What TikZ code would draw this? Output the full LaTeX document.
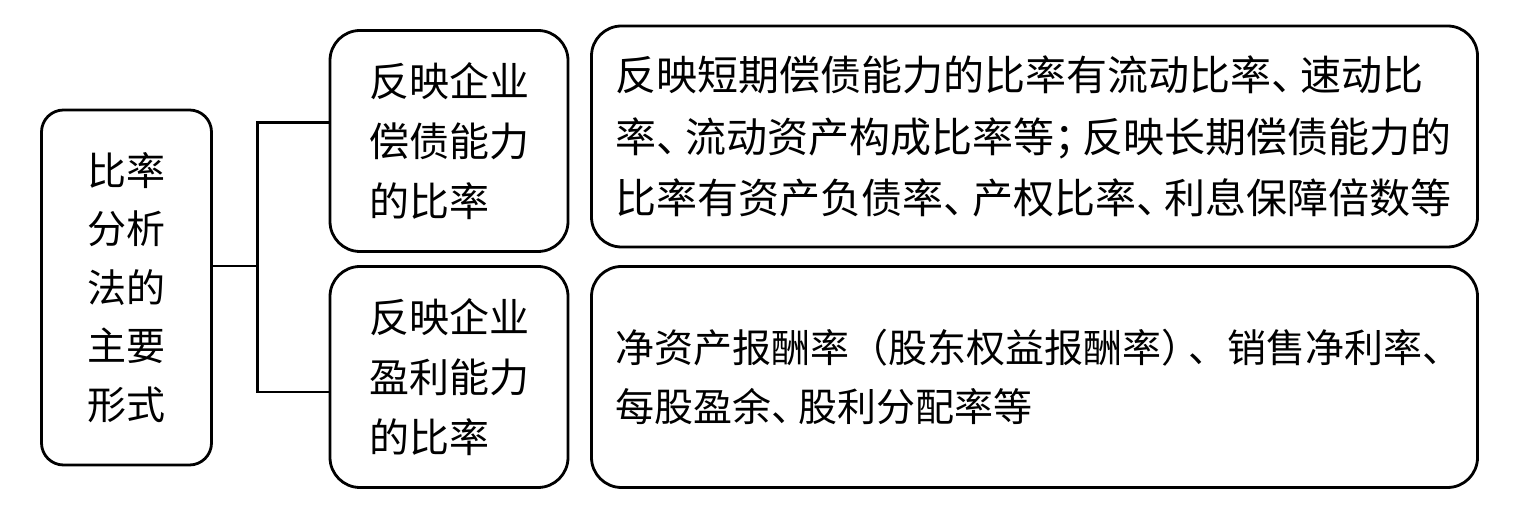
\documentclass[tikz,border=0pt]{standalone}
\usepackage{fontspec}
\newfontfamily\cjk{Noto Sans CJK SC}
\usetikzlibrary{positioning}

% narrower punctuation
\newcommand\hpunct[1]{#1\kern-.3em}

\begin{document}
\begin{tikzpicture}[x=1pt,y=1pt,
    box/.style={draw, line width=2.8pt, rounded corners=#1, outer sep=0pt, align=left},
    box/.default=30pt,
    link/.style={line width=2.8pt}]
  \fill [white] (0,0) rectangle (1517,521);
  \useasboundingbox (0,0) rectangle (1517,521);

  \node [box=22pt, minimum width=170pt, minimum height=355pt, text width=78pt, inner xsep=0pt,
         font=\cjk\fontsize{39}{58.5}\selectfont] (ratio) at (126.5,233.5)
        {比率\\分析\\法的\\主要\\形式};

  \node [box, minimum width=238pt, minimum height=221pt, text width=160pt, inner xsep=0pt,
         font=\cjk\fontsize{40}{60}\selectfont] (solv) at (449,380)
        {反映企业\\偿债能力\\的比率};
  \node [box, minimum width=238pt, minimum height=221pt, text width=160pt, inner xsep=0pt,
         font=\cjk\fontsize{40}{60}\selectfont, below=15pt of solv] (prof)
        {反映企业\\盈利能力\\的比率};

  \node [box, minimum width=886pt, minimum height=221pt, text width=838pt, inner xsep=24pt,
         font=\cjk\fontsize{41}{61.5}\selectfont, right=23.5pt of solv, yshift=4.5pt] (solvtxt)
        {反映短期偿债能力的比率有流动比率\hpunct{、}速动比\\
         率\hpunct{、}流动资产构成比率等\hpunct{；}反映长期偿债能力的\\
         比率有资产负债率\hpunct{、}产权比率\hpunct{、}利息保障倍数等};
  \node [box, minimum width=886pt, minimum height=221pt, text width=838pt, inner xsep=24pt,
         font=\cjk\fontsize{39}{59}\selectfont, right=23.5pt of prof] (proftxt)
        {净资产报酬率（股东权益报酬率\hpunct{）}、销售净利率\hpunct{、}\\
         每股盈余\hpunct{、}股利分配率等};

  % connectors
  \coordinate (jm) at (257.5,255);
  \coordinate (jt) at (257.5,398.5);
  \coordinate (jb) at (257.5,129);
  \draw [link] (ratio.east |- jm) -- (jm);
  \draw [link] (solv.west |- jt) -- (jt) -- (jb) -- (prof.west |- jb);
\end{tikzpicture}
\end{document}
